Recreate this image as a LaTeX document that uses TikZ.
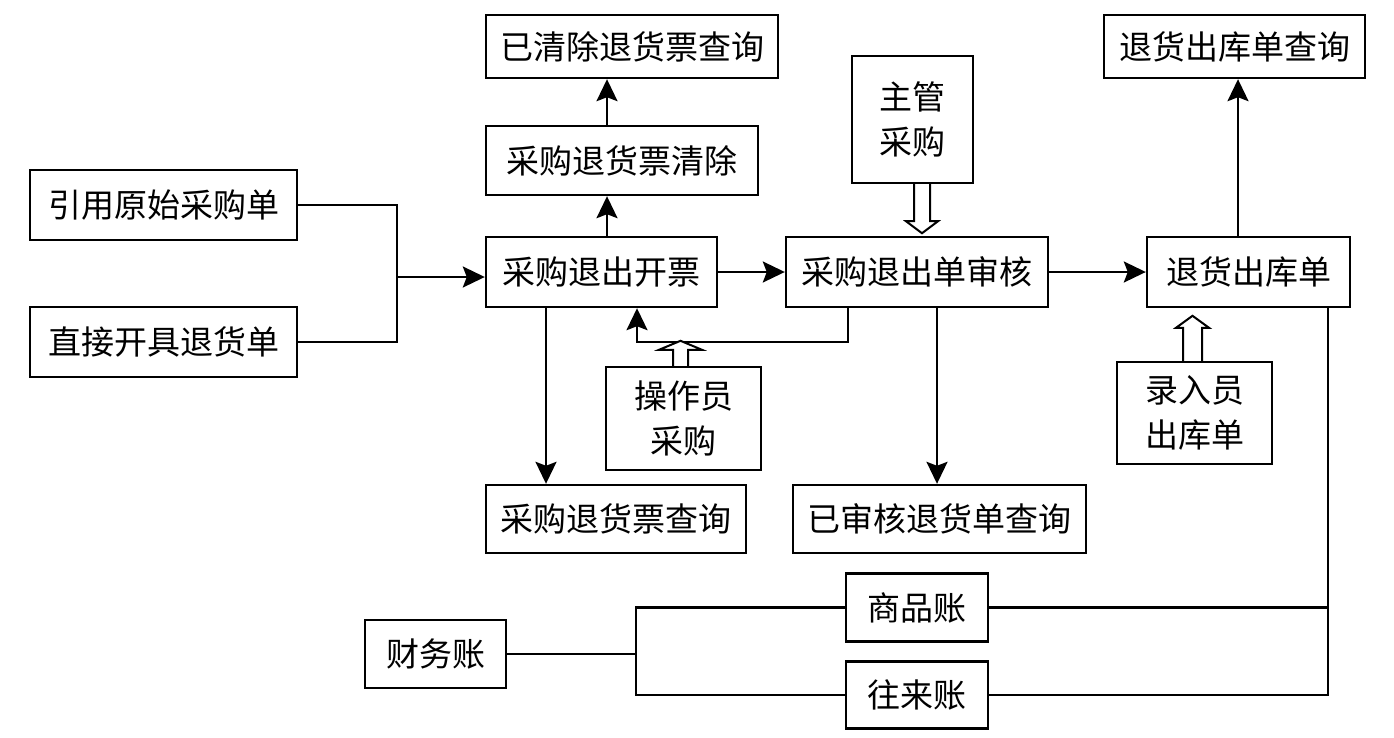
\documentclass[tikz,border=0pt]{standalone}
\usepackage{fontspec}
\newfontfamily\cjk{Noto Sans CJK SC}
\usetikzlibrary{arrows.meta,calc}
\begin{document}
\begin{tikzpicture}[x=1pt,y=-1pt,
  box/.style={draw,line width=2.4pt,inner sep=0pt,font=\cjk\fontsize{33}{45}\selectfont,align=center},
  ln/.style={line width=2.4pt},
  arr/.style={line width=2.4pt,-{Stealth[length=22pt,width=21pt,inset=4pt]}},
  hol/.style={line width=2pt,fill=white,line join=miter}]
\useasboundingbox (0,0) rectangle (1394,737);
% boxes
\node[box,minimum width=292pt,minimum height=63pt] (A) at (632,46.5) {已清除退货票查询};
\node[box,minimum width=272pt,minimum height=69pt] (B) at (622,160.5) {采购退货票清除};
\node[box,minimum width=267pt,minimum height=70pt] (C) at (163.5,205) {引用原始采购单};
\node[box,minimum width=267pt,minimum height=70pt] (D) at (163.5,342) {直接开具退货单};
\node[box,minimum width=231pt,minimum height=70pt] (E) at (601.5,272) {采购退出开票};
\node[box,minimum width=262pt,minimum height=70pt] (F) at (917,272) {采购退出单审核};
\node[box,minimum width=203pt,minimum height=70pt] (G) at (1248.5,272) {退货出库单};
\node[box,minimum width=261pt,minimum height=63pt] (H) at (1234.5,46.5) {退货出库单查询};
\node[box,minimum width=121pt,minimum height=127pt] (I) at (912.5,119.5) {主管\\采购};
\node[box,minimum width=155pt,minimum height=103pt] (J) at (683.5,418.5) {操作员\\采购};
\node[box,minimum width=155pt,minimum height=102pt] (K) at (1194.5,413) {录入员\\出库单};
\node[box,minimum width=260pt,minimum height=68pt] (L) at (616,519) {采购退货票查询};
\node[box,minimum width=293pt,minimum height=68pt] (M) at (939.5,519) {已审核退货单查询};
\node[box,minimum width=141pt,minimum height=68pt] (N) at (435.5,654) {财务账};
\node[box,minimum width=142pt,minimum height=68pt] (O) at (917,607.5) {商品账};
\node[box,minimum width=142pt,minimum height=67pt] (P) at (917,695) {往来账};
% helper coordinates
\coordinate (j1) at (397,277);
\coordinate (xe) at (546,0);
\coordinate (xb) at (607,0);
\coordinate (xf) at (848,0);
\coordinate (xm) at (937,0);
\coordinate (xr) at (637,342);
\coordinate (xg) at (1238,0);
\coordinate (xs) at (1328,0);
\coordinate (xn) at (636,0);
% connectors
\draw[ln] (C.east) -| (j1) |- (D.east);
\draw[arr] (j1) -- (j1 -| E.west);
\draw[arr] (E.east) -- (F.west);
\draw[arr] (F.east) -- (G.west);
\draw[arr] (xb |- E.north) -- (xb |- B.south);
\draw[arr] (xb |- B.north) -- (xb |- A.south);
\draw[arr] (xe |- E.south) -- (xe |- L.north);
\draw[arr] (xm |- F.south) -- (xm |- M.north);
\draw[arr] (xf |- F.south) |- (xr) -- (xr |- E.south);
\draw[arr] (xg |- G.north) -- (xg |- H.south);
\draw[ln] (xs |- G.south) -- (xs |- P.east) -- (P.east);
\draw[ln] (O.east) -- (xs |- O.east);
\draw[ln] (N.east) -- (xn |- N.east);
\draw[ln] (O.west) -| (xn |- N.east) |- (P.west);
% hollow arrows
\draw[hol] ($(I.south)+(1.5,0)$) -- ++(0,37) -- ++(-8,0) -- ++(16,12) -- ++(16,-12) -- ++(-8,0) -- ++(0,-37);
\draw[hol] ($(J.north)+(-10.5,0)$) -- ++(0,-16) -- ++(-14,0) -- ++(21.5,-9) -- ++(21.5,9) -- ++(-14,0) -- ++(0,16);
\draw[hol] ($(K.north)+(-11.5,0)$) -- ++(0,-33) -- ++(-7,0) -- ++(16.5,-12) -- ++(16.5,12) -- ++(-7,0) -- ++(0,33);
\end{tikzpicture}
\end{document}
